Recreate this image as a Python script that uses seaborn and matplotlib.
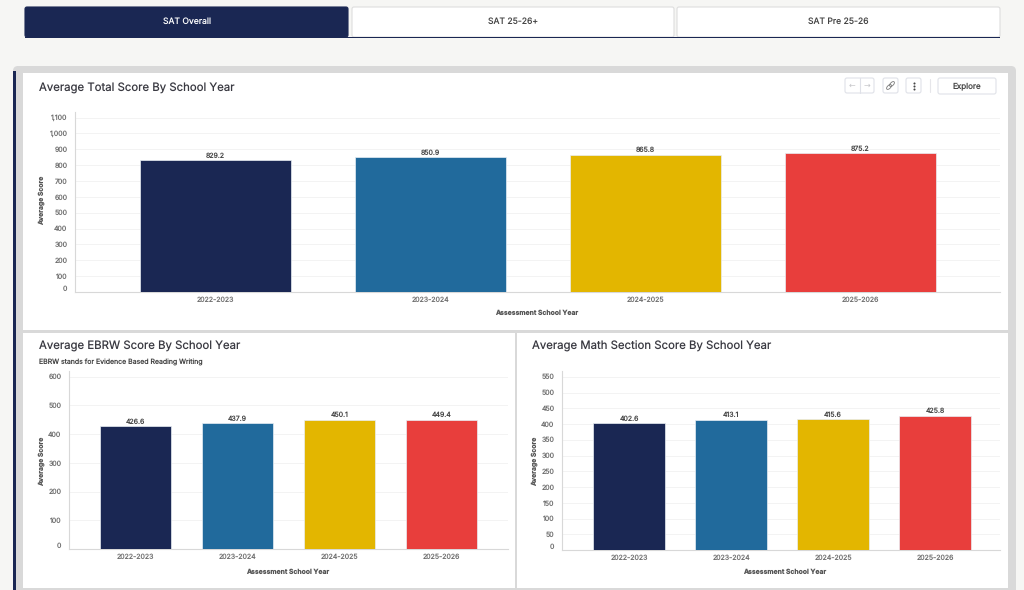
import matplotlib
matplotlib.use("Agg")
import matplotlib.pyplot as plt
import seaborn as sns
from matplotlib.patches import Rectangle, FancyBboxPatch, Ellipse

years = ["2022-2023", "2023-2024", "2024-2025", "2025-2026"]
total_scores = [829.2, 850.9, 865.8, 875.2]
ebrw_scores = [426.6, 437.9, 450.1, 449.4]
math_scores = [402.6, 413.1, 415.6, 425.8]
bar_colors = ["#1a2753", "#216a9c", "#e3b600", "#e83e3c"]
tabs = ["SAT Overall", "SAT 25-26+", "SAT Pre 25-26"]
titles = ["Average Total Score By School Year",
          "Average EBRW Score By School Year",
          "Average Math Section Score By School Year"]
subtitle = "EBRW stands for Evidence Based Reading Writing"
y_title = "Average Score"
x_title = "Assessment School Year"
total_ticks = list(range(0, 1101, 100))
ebrw_ticks = list(range(0, 601, 100))
math_ticks = list(range(0, 551, 50))

sns.set_theme(style="white")
plt.rcParams["font.family"] = ["Inter", "DejaVu Sans"]
plt.rcParams["text.hinting"] = "no_hinting"
plt.rcParams["text.hinting_factor"] = 1

W, H = 1024, 590
NAVY = "#1a2753"
fig = plt.figure(figsize=(W / 100, H / 100), dpi=100, facecolor="#f6f6f4")
bg = fig.add_axes([0, 0, 1, 1], zorder=0)
bg.set_xlim(0, W)
bg.set_ylim(H, 0)
bg.axis("off")


def rect(x0, y0, x1, y1, color, **kw):
    bg.add_patch(Rectangle((x0, y0), x1 - x0, y1 - y0, facecolor=color, edgecolor="none", **kw))


def rbox(x0, y0, x1, y1, face, edge, r=2, lw=0.8):
    bg.add_patch(FancyBboxPatch((x0 + r, y0 + r), x1 - x0 - 2 * r, y1 - y0 - 2 * r,
                                boxstyle=f"round,pad={r},rounding_size={r}",
                                facecolor=face, edgecolor=edge, linewidth=lw))


# tabs
rbox(25, 7, 348, 37, NAVY, NAVY, r=2)
rbox(352, 7, 674, 37, "white", "#dddddd", r=2)
rbox(677, 7, 1000, 37, "white", "#dddddd", r=2)
rect(25, 36.5, 1000, 38, NAVY)
for t, cx, col in zip(tabs, [187, 513, 838.5], ["white", "#444444", "#444444"]):
    bg.text(cx, 22, t, ha="center", va="center", fontsize=6.2, color=col)

# card
rbox(13, 66, 1016, 600, "#d9d9d9", "none", r=5, lw=0)
rect(13, 71, 16, 590, NAVY)
rect(23, 73, 1008, 330, "white")
rect(23, 333, 515, 588, "white")
rect(517, 333, 1008, 588, "white")

# titles
for t, x, y in zip(titles, [39, 39, 532.5], [88, 346, 346]):
    bg.text(x, y, t, ha="left", va="center", fontsize=8.2, color="#3a3a42")
bg.text(39, 362, subtitle, ha="left", va="center", fontsize=5.0, color="#444444")

# toolbar
rbox(845, 78, 874, 93, "white", "#dfe1e8", r=2)
bg.plot([859.5, 859.5], [78, 93], color="#dfe1e8", lw=0.8)
bg.text(852, 86, "←", ha="center", va="center", fontsize=6, color="#c4c4c8", family="DejaVu Sans")
bg.text(867, 86, "→", ha="center", va="center", fontsize=6, color="#c4c4c8", family="DejaVu Sans")
rbox(883, 78, 898, 93, "white", "#dfe1e8", r=2)
bg.add_patch(Ellipse((889, 87), 6, 3.2, angle=-45, fc="none", ec="#777777", lw=0.6))
bg.add_patch(Ellipse((892, 84), 6, 3.2, angle=-45, fc="none", ec="#777777", lw=0.6))
rbox(906, 78, 921, 93, "white", "#dfe1e8", r=2)
bg.scatter([913.5] * 3, [82.5, 85.5, 89], s=2.2, color="#444444", linewidths=0)
bg.plot([929.5, 929.5], [79, 92], color="#e6e6ea", lw=0.8)
rbox(938, 78, 996, 94, "white", "#e0e2e8", r=2)
bg.text(967, 86, "Explore", ha="center", va="center", fontsize=5.8, color="#444444")


def panel(values, ticks, left, right, top, base, px_per_unit, first_cx, step, xlab_cx, xlab_y, ylab_x, ylab_cy, tsize):
    ax = fig.add_axes([left / W, 1 - base / H, (right - left) / W, (base - top) / H], zorder=1)
    ax.patch.set_alpha(0)
    sns.barplot(x=years, y=values, hue=years, palette=bar_colors, hue_order=years, legend=False,
                width=0.7, saturation=1, linewidth=0.5, edgecolor="#e8eef4", ax=ax, zorder=3)
    ax.set_xlim((left - first_cx) / step, (right - first_cx) / step)
    ax.set_ylim(0, (base - top) / px_per_unit)
    ax.set_yticks(ticks)
    ax.set_yticklabels([f"{v:,}" for v in ticks])
    ax.tick_params(axis="y", length=3, width=0.5, color="#eeeeee", pad=2.5, labelsize=tsize, labelcolor="#707070")
    ax.tick_params(axis="x", length=0, pad=3, labelsize=tsize, labelcolor="#707070")
    ax.yaxis.grid(True, color="#f3f3f3", linewidth=0.7, zorder=0)
    ax.set_axisbelow(True)
    for s in ["top", "right"]:
        ax.spines[s].set_visible(False)
    for s in ["left", "bottom"]:
        ax.spines[s].set_color("#d8d8d8")
        ax.spines[s].set_linewidth(0.8)
    for c in ax.containers:
        ax.bar_label(c, fmt="%.1f", padding=0.8, fontsize=tsize, color="#444444")
    fig.canvas.draw()
    ax.get_yticklabels()[0].set_va("bottom")
    ax.set_xlabel("")
    ax.set_ylabel("")
    bg.text(xlab_cx, xlab_y, x_title, ha="center", va="center", fontsize=4.9, fontweight="bold", color="#555555")
    bg.text(ylab_x, ylab_cy, y_title, ha="center", va="center", rotation=90, fontsize=4.9,
            fontweight="bold", color="#555555")
    return ax


panel(total_scores, total_ticks, 75, 1000, 112, 292, 0.1586, 215.5, 215, 537, 312.5, 42, 200, 5.0)
panel(ebrw_scores, ebrw_ticks, 69, 508, 371, 549, 0.2875, 135.5, 102, 288, 571.5, 42, 461, 5.0)
panel(math_scores, math_ticks, 562, 1000, 371, 550, 0.315, 629, 102, 785, 571.5, 535, 461, 5.0)

fig.savefig("out.png", dpi=100, facecolor=fig.get_facecolor())
